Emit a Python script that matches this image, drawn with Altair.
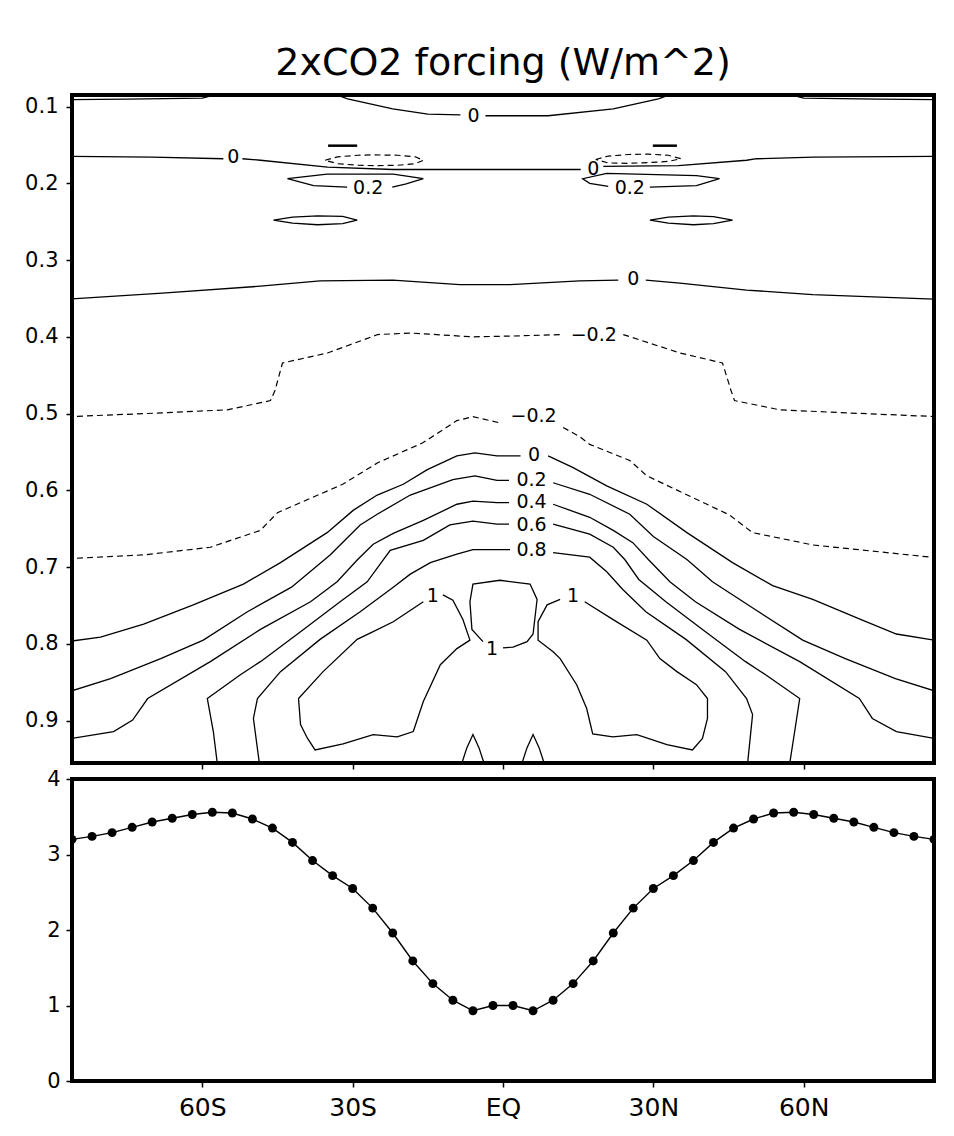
import altair as alt
import pandas as pd

TITLE = "2xCO2 forcing (W/m^2)"

LAT_TICKS = [-60, -30, 0, 30, 60]
LAT_LABELS = ["60S", "30S", "EQ", "30N", "60N"]
SIGMA_TICKS = [0.1, 0.2, 0.3, 0.4, 0.5, 0.6, 0.7, 0.8, 0.9]
FORCING_TICKS = [0, 1, 2, 3, 4]

# ---- bottom panel: zonal-mean forcing ----
LATS = list(range(-86, 87, 4))
FORCING = [3.20, 3.24, 3.29, 3.36, 3.43, 3.48, 3.53, 3.56, 3.55, 3.47, 3.35, 3.16,
           2.92, 2.72, 2.55, 2.29, 1.96, 1.59,
           1.29, 1.07, 0.93, 1.00, 1.00, 0.93, 1.07, 1.29,
           1.59, 1.96, 2.29, 2.55, 2.72, 2.92, 3.16, 3.35, 3.47, 3.55, 3.56,
           3.53, 3.48, 3.43, 3.36, 3.29, 3.24, 3.20]

# ---- top panel: contour lines (lat, sigma), split at label gaps ----
top_zero_a = [(-34, 0.083), (-31, 0.090), (-22, 0.103), (-15, 0.110), (-8.5, 0.111)]
top_zero_b = [(-3.5, 0.112), (9, 0.112), (22, 0.103), (31, 0.090), (34, 0.083)]
top_edge_left = [(-87, 0.091), (-75, 0.0905), (-60, 0.089), (-57, 0.084)]
top_edge_right = [(57, 0.084), (60, 0.089), (75, 0.0905), (87, 0.091)]
mid_zero_a = [(-87, 0.165), (-70, 0.166), (-55.8, 0.168)]
mid_zero_b = [(-52, 0.168), (-48.4, 0.170), (-35, 0.179), (-22, 0.182), (1.4, 0.182), (15.5, 0.182)]
mid_zero_c = [(20, 0.178), (35, 0.177), (48.6, 0.170), (50.6, 0.168), (62, 0.166), (87, 0.165)]
lens02_left = [(-31.1, 0.205), (-37.8, 0.203), (-43, 0.194), (-35.1, 0.188), (-21.9, 0.188),
               (-15.9, 0.194), (-19.5, 0.201), (-22.1, 0.205)]
lens02_right = [(29.3, 0.205), (38.6, 0.203), (43.2, 0.194), (38.6, 0.190), (20.7, 0.187),
                (15.9, 0.194), (17.3, 0.200), (21, 0.204)]
lens_left = [(-45.8, 0.248), (-42, 0.244), (-37, 0.2425), (-32, 0.243), (-29.1, 0.248),
             (-32, 0.2525), (-37, 0.254), (-42, 0.252), (-45.8, 0.248)]
lens_right = [(29.3, 0.248), (33, 0.244), (38, 0.2425), (42, 0.2435), (45.8, 0.248),
              (42, 0.2525), (38, 0.254), (33, 0.252), (29.3, 0.248)]
upper_zero_a = [(-87, 0.351), (-68, 0.343), (-48.4, 0.334), (-36.5, 0.327), (-22, 0.326),
                (-8.6, 0.332), (1.4, 0.332), (15.3, 0.327), (23, 0.326)]
upper_zero_b = [(28.5, 0.326), (35.3, 0.330), (48.6, 0.339), (61.8, 0.345), (87, 0.351)]
zero_a = [(-87, 0.797), (-80.3, 0.791), (-71.7, 0.774), (-61.8, 0.749), (-51.8, 0.722),
          (-44.4, 0.694), (-35.1, 0.655), (-29.9, 0.626), (-25.1, 0.606), (-19.9, 0.592),
          (-15.1, 0.573), (-9.2, 0.555), (-5.6, 0.551), (-1.2, 0.555), (3.5, 0.555)]
zero_b = [(9, 0.555), (13.9, 0.570), (20.7, 0.594), (28.7, 0.618), (36.7, 0.655),
          (45.8, 0.694), (53.8, 0.724), (61.8, 0.742), (71.7, 0.769), (78.5, 0.787), (87, 0.796)]
c02_a = [(-87, 0.863), (-78.3, 0.845), (-68.3, 0.819), (-59.8, 0.795), (-51, 0.758),
         (-42.2, 0.726), (-34.5, 0.684), (-28.5, 0.645), (-25.1, 0.631), (-18.5, 0.606),
         (-10, 0.586), (-5.6, 0.581), (-1.2, 0.587), (1.2, 0.587)]
c02_b = [(10, 0.590), (17.3, 0.605), (25.3, 0.631), (30, 0.660), (36.7, 0.690), (41.8, 0.719),
         (51, 0.758), (59.8, 0.795), (68.3, 0.819), (78.3, 0.845), (87, 0.863)]
c04_a = [(-87, 0.924), (-77.7, 0.914), (-73.9, 0.899), (-70.9, 0.871), (-58.4, 0.823),
         (-48.4, 0.781), (-38.4, 0.745), (-33.1, 0.719), (-29, 0.690), (-25.9, 0.670),
         (-21.9, 0.656), (-15.9, 0.639), (-9.2, 0.618), (-6, 0.614), (-1.2, 0.616), (1.2, 0.616)]
c04_b = [(10, 0.618), (17.3, 0.635), (22, 0.652), (25.9, 0.668), (29, 0.690), (33.3, 0.719),
         (38.4, 0.745), (47.2, 0.781), (59.2, 0.823), (71.1, 0.871), (73.7, 0.897),
         (78.5, 0.914), (87, 0.924)]
c06_a = [(-57, 0.97), (-57, 0.956), (-57.8, 0.914), (-59, 0.871), (-52.4, 0.840),
         (-48.4, 0.823), (-40.4, 0.784), (-32.5, 0.745), (-27.1, 0.719), (-24.3, 0.694),
         (-22.5, 0.678), (-15.9, 0.665), (-10.6, 0.645), (-6, 0.640), (-1.2, 0.644), (1.2, 0.644)]
c06_b = [(10, 0.644), (17.3, 0.657), (22, 0.674), (24.3, 0.690), (27.1, 0.716), (32.5, 0.745),
         (40.4, 0.784), (48.4, 0.823), (52.4, 0.840), (59.2, 0.871), (58.2, 0.914),
         (57.2, 0.956), (57.2, 0.97)]
c08_a = [(-48.6, 0.97), (-48.6, 0.956), (-49.8, 0.897), (-49, 0.871), (-44.4, 0.836),
         (-36.5, 0.794), (-28.5, 0.758), (-21.9, 0.726), (-18.5, 0.709), (-14.5, 0.694),
         (-9.2, 0.683), (-6, 0.677), (1.4, 0.677)]
c08_b = [(10, 0.681), (17.3, 0.687), (20.7, 0.706), (23.9, 0.729), (28.5, 0.758),
         (36.5, 0.794), (44.4, 0.836), (48.6, 0.871), (49.8, 0.892), (48.8, 0.956), (48.8, 0.97)]
one_left = [(-12, 0.736), (-10, 0.743), (-8, 0.768), (-6.6, 0.795), (-9.2, 0.806),
            (-12.5, 0.827), (-15.9, 0.875), (-17.9, 0.914), (-21.1, 0.921), (-25.9, 0.918),
            (-31.9, 0.930), (-37.5, 0.938), (-39, 0.923), (-40.4, 0.905), (-40.8, 0.871),
            (-35.9, 0.836), (-29.1, 0.794), (-25.9, 0.784), (-21.9, 0.771), (-15.9, 0.745)]
one_center = [(0, 0.805), (2, 0.804), (4.8, 0.797), (6, 0.787), (6.8, 0.742), (5.4, 0.722),
              (-0.6, 0.717), (-6, 0.722), (-6.6, 0.745), (-6.2, 0.781), (-4, 0.797)]
one_right = [(16.3, 0.745), (21.9, 0.768), (28.7, 0.795), (31.3, 0.819), (34.7, 0.836),
             (38.6, 0.853), (40.8, 0.871), (40.8, 0.897), (39.8, 0.923), (37.8, 0.938),
             (32.7, 0.931), (26.7, 0.918), (21.9, 0.921), (17.9, 0.917), (16.7, 0.884),
             (14.7, 0.853), (11.4, 0.819), (10, 0.810), (7, 0.795), (7, 0.771), (8.8, 0.749),
             (11.4, 0.742)]
peak_left = [(-8.8, 0.97), (-8.2, 0.955), (-7.2, 0.935), (-6, 0.918), (-4.8, 0.935),
             (-3.8, 0.955), (-3.2, 0.97)]
peak_right = [(3.2, 0.97), (3.8, 0.955), (4.8, 0.935), (6, 0.918), (7.2, 0.935),
              (8.2, 0.955), (8.8, 0.97)]
blip_left = [(-34.9, 0.151), (-29.1, 0.151)]
blip_right = [(29.9, 0.151), (34.7, 0.151)]

# negative (dashed) contours
neg_upper_a = [(-87, 0.504), (-68, 0.499), (-55, 0.495), (-46.4, 0.483), (-45.5, 0.470),
               (-44, 0.434), (-35, 0.421), (-25, 0.397), (-18.5, 0.395), (-6, 0.400),
               (1.4, 0.399), (12, 0.397)]
neg_upper_b = [(24, 0.397), (35.3, 0.421), (43.8, 0.434), (45.5, 0.470), (46.2, 0.483),
               (55.2, 0.495), (68.5, 0.499), (87, 0.504)]
neg_lower_a = [(-87, 0.689), (-71.7, 0.684), (-58.4, 0.674), (-48.4, 0.652), (-45, 0.629),
               (-32, 0.592), (-25, 0.564), (-16, 0.538), (-9.2, 0.509), (-6, 0.504), (-0.6, 0.512)]
neg_lower_b = [(12, 0.518), (15.3, 0.530), (17.3, 0.540), (25.3, 0.561), (28.7, 0.581),
               (45.2, 0.632), (49.8, 0.655), (61.8, 0.671), (87, 0.688)]
ellipse_left = [(-35.5, 0.170), (-33, 0.1655), (-29, 0.1635), (-25.7, 0.163), (-21, 0.1635),
                (-17.5, 0.1655), (-15.9, 0.170), (-17.5, 0.1745), (-21, 0.1765), (-25.7, 0.177),
                (-29, 0.1765), (-33, 0.1745), (-35.5, 0.170)]
ellipse_right = [(18.5, 0.169), (21, 0.1645), (25, 0.1625), (29, 0.162), (33, 0.1635),
                 (35.5, 0.168), (33, 0.1715), (29, 0.173), (25, 0.174), (21, 0.1735), (18.5, 0.169)]

# contour labels
LABEL_TEXT = ["0", "0", "0", "0.2", "0.2", "0", "\u22120.2", "\u22120.2",
              "0", "0.2", "0.4", "0.6", "0.8", "1", "1", "1"]
LABEL_LAT = [-5.9, -53.8, 18.0, -26.9, 25.3, 26.0, 18.1, 6.1,
             6.2, 5.7, 5.7, 5.7, 5.7, -14.0, -2.2, 14.0]
LABEL_SIG = [0.112, 0.166, 0.182, 0.206, 0.206, 0.325, 0.397, 0.503,
             0.554, 0.587, 0.615, 0.645, 0.677, 0.737, 0.806, 0.737]

SOLID = [top_zero_a, top_zero_b, top_edge_left, top_edge_right, mid_zero_a, mid_zero_b,
         mid_zero_c, lens02_left, lens02_right, lens_left, lens_right, upper_zero_a,
         upper_zero_b, zero_a, zero_b, c02_a, c02_b, c04_a, c04_b, c06_a, c06_b, c08_a, c08_b,
         one_left, one_center, one_right, peak_left, peak_right]
DASHED = [neg_upper_a, neg_upper_b, neg_lower_a, neg_lower_b, ellipse_left, ellipse_right]
BLIPS = [blip_left, blip_right]


def seg_frame(segs, prefix):
    rows = []
    for k, seg in enumerate(segs):
        for i, (la, sg) in enumerate(seg):
            rows.append({"seg": f"{prefix}{k}", "i": i, "lat": la, "sig": sg})
    return pd.DataFrame(rows)


solid_df = seg_frame(SOLID, "s")
dashed_df = seg_frame(DASHED, "d")
blip_df = seg_frame(BLIPS, "b")
label_df = pd.DataFrame({"lat": LABEL_LAT, "sig": LABEL_SIG, "text": LABEL_TEXT})
line_df = pd.DataFrame({"lat": LATS, "val": FORCING})

W = 862
FONT = "DejaVu Sans"

label_expr = " : ".join(
    f"datum.value == {v} ? '{t}'" for v, t in zip(LAT_TICKS, LAT_LABELS)
) + " : ''"

x_top = alt.X("lat:Q", scale=alt.Scale(domain=[-86, 86], nice=False, zero=False),
              axis=alt.Axis(values=LAT_TICKS, labels=False, title=None))
y_top = alt.Y("sig:Q", scale=alt.Scale(domain=[0.085, 0.955], nice=False, zero=False, reverse=True),
              axis=alt.Axis(values=SIGMA_TICKS, format=".1f", title=None, labelFontSize=21,
                            labelPadding=8))

solid = alt.Chart(solid_df).mark_line(color="black", strokeWidth=1.3, clip=True).encode(
    x=x_top, y=y_top, detail="seg:N", order="i:Q")
dashed = alt.Chart(dashed_df).mark_line(color="black", strokeWidth=1.2, strokeDash=[6, 4],
                                        clip=True).encode(
    x=x_top, y=y_top, detail="seg:N", order="i:Q")
blips = alt.Chart(blip_df).mark_line(color="black", strokeWidth=2.5, clip=True).encode(
    x=x_top, y=y_top, detail="seg:N", order="i:Q")
labels = alt.Chart(label_df).mark_text(font=FONT, fontSize=19, color="black",
                                       align="center", baseline="middle").encode(
    x=x_top, y=y_top, text="text:N")

top = alt.layer(solid, dashed, blips, labels).properties(
    width=W, height=668,
    title=alt.TitleParams(TITLE, font=FONT, fontSize=38, fontWeight="normal", color="black",
                          anchor="middle", frame="group", offset=12))

x_bot = alt.X("lat:Q", scale=alt.Scale(domain=[-86, 86], nice=False, zero=False),
              axis=alt.Axis(values=LAT_TICKS, labelExpr=label_expr, title=None,
                            labelFontSize=25, labelPadding=8))
y_bot = alt.Y("val:Q", scale=alt.Scale(domain=[0, 4], nice=False),
              axis=alt.Axis(values=FORCING_TICKS, format="d", title=None, labelFontSize=21,
                            labelPadding=6))

bline = alt.Chart(line_df).mark_line(color="black", strokeWidth=1.4, clip=True).encode(
    x=x_bot, y=y_bot)
bdots = alt.Chart(line_df).mark_circle(color="black", size=80, opacity=1, clip=True).encode(
    x=x_bot, y=y_bot)

bottom = alt.layer(bline, bdots).properties(width=W, height=302)

chart = alt.vconcat(top, bottom, spacing=16, bounds="flush").properties(
    padding={"left": 14, "top": 35, "right": 10, "bottom": 5},
    background="white",
).configure_view(
    stroke="black", strokeWidth=4
).configure_axis(
    domain=False, grid=False, tickColor="black", tickWidth=1.5, tickSize=6,
    labelColor="black", labelFont=FONT
)

chart.save("out.html", embed_options={"renderer": "svg", "actions": False})
